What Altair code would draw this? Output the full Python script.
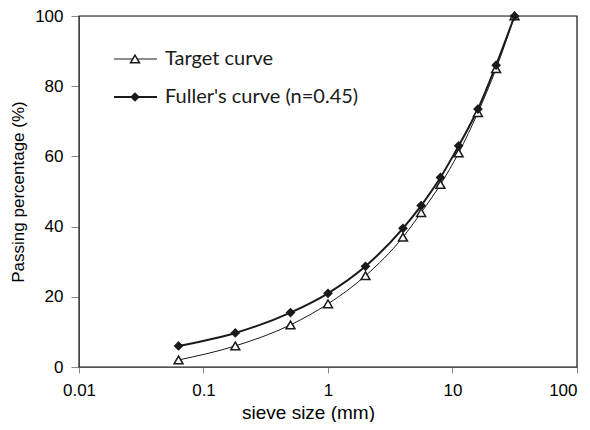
import altair as alt
import pandas as pd

sieve = [0.063, 0.18, 0.5, 1, 2, 4, 5.6, 8, 11.2, 16, 22.4, 31.5]
target = [2, 6, 12, 18, 26, 37, 44, 52, 61, 72.5, 85, 100]
fuller = [6, 9.7, 15.5, 21, 28.7, 39.5, 46, 54, 63, 73.5, 86, 100]
x_ticks = [0.01, 0.1, 1, 10, 100]
y_ticks = [0, 20, 40, 60, 80, 100]
legend_labels = ["Target curve", "Fuller's curve (n=0.45)"]

FONT = "Lato"
INK = "#1a1a1a"
W, H = 498, 351

df_t = pd.DataFrame({"size": sieve, "pass": target})
df_f = pd.DataFrame({"size": sieve, "pass": fuller})

xenc = alt.X(
    "size:Q",
    scale=alt.Scale(type="log", domain=[0.01, 100], nice=False),
    axis=alt.Axis(
        values=x_ticks, format="~g", title="sieve size (mm)", grid=False,
        tickSize=6, labelPadding=9, titlePadding=5, labelFontSize=17,
        titleFontSize=19, titleFontWeight="normal", labelFlush=False,
        labelAlign=alt.condition("datum.value >= 100", alt.value("right"), alt.value("center")),
        titleX=229, titleAlign="center",
    ),
)
yenc = alt.Y(
    "pass:Q",
    scale=alt.Scale(domain=[0, 100], nice=False),
    axis=alt.Axis(
        values=y_ticks, title="Passing percentage (%)", grid=False,
        tickSize=8, labelPadding=8, titlePadding=7, labelFontSize=17,
        titleFontSize=17, titleFontWeight="normal",
    ),
)

frame = alt.Chart(pd.DataFrame({"a": [0]})).mark_rect(
    fill=None, filled=False, stroke=INK, strokeWidth=1.2
).encode(x=alt.value(0), x2=alt.value(W), y=alt.value(0), y2=alt.value(H))

line_t = alt.Chart(df_t).mark_line(color=INK, strokeWidth=1, interpolate="monotone").encode(x=xenc, y=yenc)
pts_t = alt.Chart(df_t).mark_point(shape="triangle-up", size=80, filled=True, fill="white",
                                  stroke=INK, strokeWidth=1.5, opacity=1).encode(x=xenc, y=yenc)
line_f = alt.Chart(df_f).mark_line(color=INK, strokeWidth=2, interpolate="monotone").encode(x=xenc, y=yenc)
pts_f = alt.Chart(df_f).mark_point(shape="diamond", size=95, filled=True, color=INK, opacity=1).encode(x=xenc, y=yenc)

# legend (drawn inside plot area, top-left)
leg_rows = [43, 81]
leg = []
for i, (lab, yy) in enumerate(zip(legend_labels, leg_rows)):
    base = alt.Chart(pd.DataFrame({"a": [0]}))
    leg.append(base.mark_rule(color=INK, strokeWidth=1 if i == 0 else 2).encode(
        x=alt.value(35), x2=alt.value(78), y=alt.value(yy)))
    if i == 0:
        leg.append(base.mark_point(shape="triangle-up", size=80, filled=True, fill="white",
                                   stroke=INK, strokeWidth=1.5, opacity=1).encode(
            x=alt.value(56), y=alt.value(yy)))
    else:
        leg.append(base.mark_point(shape="diamond", size=95, filled=True, color=INK, opacity=1).encode(
            x=alt.value(56), y=alt.value(yy)))
    leg.append(base.mark_text(text=lab, align="left", baseline="middle", font=FONT,
                              fontSize=20, color=INK).encode(x=alt.value(86), y=alt.value(yy)))

chart = alt.layer(frame, line_t, line_f, pts_t, pts_f, *leg).properties(
    width=W, height=H,
    autosize=alt.AutoSizeParams(type="none"),
    padding={"left": 71, "top": 8, "right": 5, "bottom": 55},
).configure_view(
    stroke=INK, strokeWidth=1.2
).configure_axis(
    labelFont=FONT, titleFont=FONT, labelColor=INK, titleColor=INK,
    domainColor=INK, tickColor=INK, domainWidth=1.5, tickWidth=1.2,
).configure(background="white")

chart.save("out.html", embed_options={"renderer": "svg", "actions": False})
